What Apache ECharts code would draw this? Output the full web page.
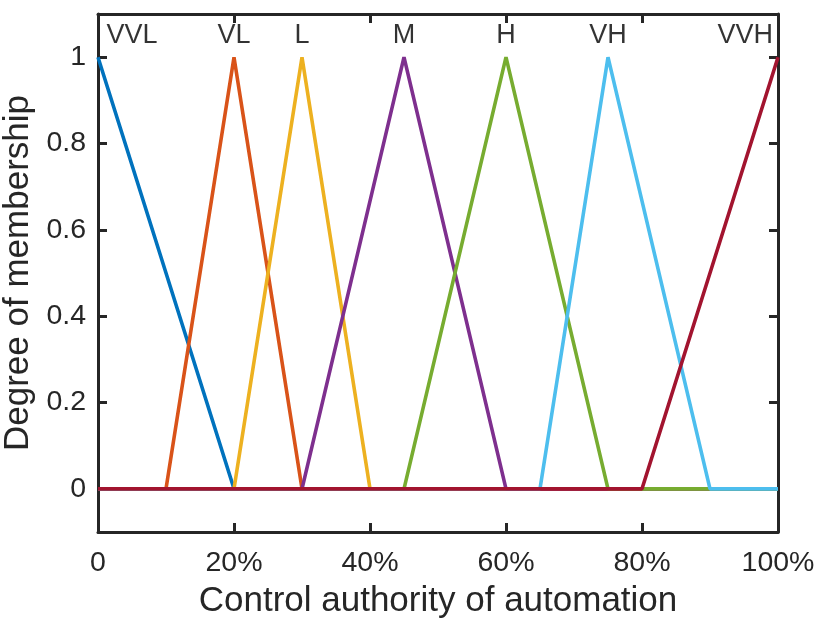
<!DOCTYPE html>
<html><head><meta charset="utf-8">
<script src="https://cdn.jsdelivr.net/npm/echarts@6/dist/echarts.min.js"></script>
<style>html,body{margin:0;padding:0;background:#fff}#c{width:830px;height:622px}</style>
</head><body><div id="c"></div>
<script>
const setNames = ['VVL','VL','L','M','H','VH','VVH'];
const colors = ['#0072BD','#D95319','#EDB120','#7E2F8E','#77AC30','#4DBEEE','#A2142F'];
const vvl = [[0,1],[20,0],[100,0]];
const vl  = [[0,0],[10,0],[20,1],[30,0],[100,0]];
const lo  = [[0,0],[20,0],[30,1],[40,0],[100,0]];
const md  = [[0,0],[30,0],[45,1],[60,0],[100,0]];
const hi  = [[0,0],[45,0],[60,1],[75,0],[100,0]];
const vh  = [[0,0],[65,0],[75,1],[90,0],[100,0]];
const vvh = [[0,0],[80,0],[100,1]];
const labelX = [5,20,30,45,60,75,95.2];
const labelY = 1.05;
const yTicks = [0,0.2,0.4,0.6,0.8,1];
const xTicks = [0,20,40,60,80,100];
const seriesData = [vvl,vl,lo,md,hi,vh,vvh];

const font = '"Liberation Sans", Arial, Helvetica, sans-serif';
const axisColor = '#262626';
const chart = echarts.init(document.getElementById('c'), null, {renderer:'canvas'});
const series = seriesData.map((d,i)=>({
  name: setNames[i], type:'line', data:d, symbol:'none', animation:false,
  lineStyle:{color:colors[i], width:3.6}, z: 2+i
}));
series.push({
  type:'scatter', data: setNames.map((n,i)=>({name:n, value:[labelX[i], labelY]})),
  symbolSize:0, animation:false, silent:true,
  label:{show:true, position:'inside', formatter:p=>p.name, color:'#000', fontSize:27, fontFamily:font}
});
const commonLine = {show:true, onZero:false, lineStyle:{color:axisColor, width:3}};
const tick = {show:true, inside:true, length:9, lineStyle:{color:axisColor, width:3}};
chart.setOption({
  animation:false,
  grid:{left:98, right:52, top:14, bottom:90, containLabel:false, outerBoundsMode:'none'},
  xAxis:[{
    type:'value', min:0, max:100, interval:20, position:'bottom',
    axisLine:commonLine,
    axisTick:Object.assign({customValues:xTicks}, tick),
    axisLabel:{color:axisColor, fontSize:28.5, fontFamily:font, margin:17, customValues:xTicks, formatter:v=>v===0?'0':v+'%'},
    splitLine:{show:false},
    name:'Control authority of automation', nameLocation:'middle', nameGap:52,
    nameTextStyle:{color:axisColor, fontSize:35, fontFamily:font}
  },{
    type:'value', min:0, max:100, interval:20, position:'top',
    axisLine:commonLine,
    axisTick:Object.assign({customValues:xTicks}, tick),
    axisLabel:{show:false}, splitLine:{show:false}
  }],
  yAxis:[{
    type:'value', min:-0.1, max:1.1, position:'left',
    axisLine:commonLine,
    axisTick:Object.assign({customValues:yTicks}, tick),
    axisLabel:{color:axisColor, fontSize:28.5, fontFamily:font, margin:12, customValues:yTicks, formatter:v=>String(Math.round(v*10)/10)},
    splitLine:{show:false},
    name:'Degree of membership', nameLocation:'middle', nameGap:61, nameRotate:90,
    nameTextStyle:{color:axisColor, fontSize:35, fontFamily:font}
  },{
    type:'value', min:-0.1, max:1.1, position:'right',
    axisLine:commonLine,
    axisTick:Object.assign({customValues:yTicks}, tick),
    axisLabel:{show:false}, splitLine:{show:false}
  }],
  series: series
});
</script></body></html>
